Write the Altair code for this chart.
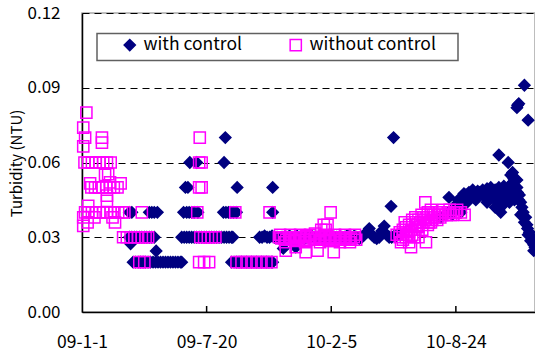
import altair as alt
import pandas as pd

FONT = "Noto Sans CJK KR"
NAVY = "#000080"
MAGENTA = "#FF00FF"

series_names = ["with control", "without control"]
tick_days = [0, 200, 400, 600]
tick_labels = ["09-1-1", "09-7-20", "10-2-5", "10-8-24"]
y_ticks = [0.0, 0.03, 0.06, 0.09, 0.12]

# ---------------- with control (navy diamonds) ----------------
wc_020_days = [82, 86, 90, 94, 98, 102, 106, 110, 114, 118, 122, 126, 130, 134, 138, 142,
               146, 150, 154, 158, 160, 240, 244, 248, 252, 256, 260, 264, 268, 272, 276,
               280, 284, 288, 292, 296, 300, 304, 306]
wc_030_days = [76, 80, 84, 88, 92, 96, 100, 104, 108, 112, 116,
               160, 164, 168, 172, 176, 180, 184, 188, 192, 196, 200, 204, 208, 212, 216,
               220, 224, 228, 232, 236, 240, 242]
wc_040_days = [76, 80, 108, 112, 116, 121, 163, 168, 172, 176, 180, 186,
               227, 231, 235, 239, 243, 248, 306]
wc_050_days = [166, 170, 249, 306]
wc_060_days = [173, 184, 228]
wc_070_days = [230, 500]
wc_misc_days = [78, 119, 323, 343, 496, 589]
wc_misc_vals = [0.0274, 0.0245, 0.0255, 0.026, 0.0424, 0.046]
# continuous band, 2009-10 to 2010-05
wc_band_days = [285, 289, 293, 297, 301, 305, 309, 313, 317, 321, 325, 329, 333, 337, 341,
                345, 349, 353, 357, 361, 365, 369, 373, 377, 381, 385, 389, 393, 397, 401,
                405, 409, 413, 417, 421, 425, 429, 433, 437, 441, 445, 449, 453, 457, 461,
                465, 469, 473, 477, 481, 485, 489, 493, 497, 501, 505, 509]
wc_band_vals = [0.030, 0.030, 0.0305, 0.030, 0.030, 0.0305, 0.030, 0.030, 0.0295, 0.030,
                0.029, 0.030, 0.0305, 0.030, 0.030, 0.0305, 0.030, 0.030, 0.0295, 0.030,
                0.030, 0.0305, 0.030, 0.030, 0.030, 0.0305, 0.030, 0.030, 0.030, 0.0305,
                0.030, 0.030, 0.0295, 0.030, 0.030, 0.0305, 0.0305, 0.030, 0.0305, 0.030,
                0.0295, 0.030, 0.031, 0.032, 0.0335, 0.031, 0.030, 0.0295, 0.030, 0.0325,
                0.0345, 0.031, 0.030, 0.030, 0.0305, 0.0305, 0.031]
# late period, 2010-08 to 2010-12
wc_late_days = [576, 582, 588, 594, 600, 604, 608, 608, 608, 613, 613, 621, 621, 627,
                635, 635, 643, 643, 650, 650, 650, 656, 656, 663, 663, 663, 669, 669, 669,
                669, 672, 677, 677, 684, 684, 684, 688, 688, 691, 691, 693, 693, 698, 698,
                698, 698, 699, 699, 701, 701, 704, 704, 710, 710, 715, 716, 716, 720, 725,
                725,
                600, 604, 610, 616, 618, 624, 630, 632, 638, 646, 654, 660, 666, 674, 676,
                680, 686, 690, 694, 702, 706, 708, 712, 714, 718, 722, 727]
wc_late_vals = [0.038, 0.039, 0.040, 0.039, 0.041, 0.042, 0.040, 0.042, 0.044, 0.0475,
                0.043, 0.048, 0.045, 0.049, 0.0485, 0.047, 0.049, 0.047, 0.0495, 0.046,
                0.044, 0.050, 0.047, 0.049, 0.045, 0.042, 0.063, 0.050, 0.043, 0.041,
                0.040, 0.0505, 0.048, 0.060, 0.050, 0.047, 0.055, 0.050, 0.056, 0.052,
                0.0535, 0.049, 0.082, 0.053, 0.050, 0.047, 0.083, 0.048, 0.0836, 0.045,
                0.044, 0.039, 0.091, 0.036, 0.0335, 0.077, 0.031, 0.0286, 0.0246, 0.027,
                0.043, 0.045, 0.046, 0.047, 0.044, 0.046, 0.047, 0.045, 0.048, 0.048,
                0.048, 0.048, 0.048, 0.046, 0.043, 0.045, 0.044, 0.046, 0.045, 0.047,
                0.042, 0.040, 0.038, 0.035, 0.032, 0.030, 0.026]

# ---------------- without control (magenta squares) ----------------
woc_020_days = [92, 100, 188, 196, 204, 248, 256, 264, 272, 280, 288, 296, 304]
woc_030_days = [66, 72, 78, 84, 90, 96, 102, 106, 190, 196, 202, 208, 214]
woc_040_days = [5, 10, 16, 22, 28, 34, 40, 46, 52, 58, 64, 68, 96, 185, 246, 301]
woc_050_days = [15, 21, 27, 33, 39, 45, 51, 57, 188, 192]
woc_060_days = [4, 10, 16, 22, 28, 34, 40, 46, 188, 192]
woc_misc_days = [7, 2, 5, 32, 32, 2, 37, 42, 45, 13, 62, 40, 40, 10, 9, 53, 2, 2, 20, 49, 189]
woc_misc_vals = [0.080, 0.074, 0.070, 0.070, 0.068, 0.0665, 0.055, 0.0553, 0.052, 0.0516,
                 0.0516, 0.0467, 0.0446, 0.0426, 0.036, 0.036, 0.0346, 0.038, 0.038, 0.038,
                 0.070]
woc_band_days = [316, 320, 324, 327, 328, 332, 336, 340, 343, 344, 348, 352, 356, 359, 360,
                 364, 368, 372, 376, 378, 380, 384, 384, 388, 388, 391, 392, 394, 396, 399,
                 400, 404, 404, 408, 412, 416, 420, 424, 428, 432, 436, 440,
                 318, 326, 334, 342, 350, 358, 366, 374, 382, 390, 398, 406, 414, 422, 430,
                 438]
woc_band_vals = [0.030, 0.0295, 0.030, 0.0246, 0.029, 0.030, 0.0295, 0.029, 0.026, 0.030,
                 0.0295, 0.030, 0.029, 0.024, 0.0305, 0.029, 0.030, 0.0295, 0.029, 0.0246,
                 0.030, 0.033, 0.0295, 0.035, 0.029, 0.033, 0.030, 0.035, 0.0295, 0.040,
                 0.030, 0.024, 0.029, 0.0295, 0.030, 0.029, 0.0295, 0.030, 0.029, 0.0295,
                 0.030, 0.029,
                 0.031, 0.028, 0.031, 0.0285, 0.031, 0.028, 0.031, 0.0315, 0.028, 0.031,
                 0.0285, 0.031, 0.028, 0.031, 0.028, 0.031]
woc_late_days = [510, 510, 515, 515, 515, 520, 520, 525, 525, 525, 528, 530, 530, 530, 535,
                 535, 535, 540, 540, 540, 545, 548, 548, 551, 552, 555, 555, 555, 560, 560,
                 560, 565, 570, 570, 575, 575, 580, 587, 592, 597, 602, 608, 614,
                 505, 512, 518, 522, 528, 533, 538, 543, 546, 550, 557, 562, 566, 572, 578,
                 583, 590, 595, 600]
woc_late_vals = [0.030, 0.032, 0.029, 0.031, 0.033, 0.030, 0.034, 0.028, 0.032, 0.035,
                 0.026, 0.031, 0.035, 0.037, 0.033, 0.036, 0.038, 0.030, 0.034, 0.037,
                 0.039, 0.036, 0.038, 0.044, 0.028, 0.035, 0.038, 0.040, 0.036, 0.039,
                 0.041, 0.038, 0.037, 0.040, 0.038, 0.040, 0.041, 0.040, 0.039, 0.040,
                 0.041, 0.040, 0.039,
                 0.031, 0.028, 0.036, 0.031, 0.033, 0.030, 0.035, 0.036, 0.033, 0.037,
                 0.036, 0.037, 0.039, 0.039, 0.039, 0.039, 0.041, 0.039, 0.040]

rows = []


def add(series, days, vals):
    for d, v in zip(days, vals):
        rows.append({"series": series, "day": d, "ntu": v})


wc = series_names[0]
woc = series_names[1]
add(wc, wc_020_days, [0.020] * len(wc_020_days))
add(wc, wc_030_days, [0.030] * len(wc_030_days))
add(wc, wc_040_days, [0.040] * len(wc_040_days))
add(wc, wc_050_days, [0.050] * len(wc_050_days))
add(wc, wc_060_days, [0.060] * len(wc_060_days))
add(wc, wc_070_days, [0.070] * len(wc_070_days))
add(wc, wc_misc_days, wc_misc_vals)
add(wc, wc_band_days, wc_band_vals)
add(wc, wc_late_days, wc_late_vals)
add(woc, woc_020_days, [0.020] * len(woc_020_days))
add(woc, woc_030_days, [0.030] * len(woc_030_days))
add(woc, woc_040_days, [0.040] * len(woc_040_days))
add(woc, woc_050_days, [0.050] * len(woc_050_days))
add(woc, woc_060_days, [0.060] * len(woc_060_days))
add(woc, woc_misc_days, woc_misc_vals)
add(woc, woc_band_days, woc_band_vals)
add(woc, woc_late_days, woc_late_vals)
df = pd.DataFrame(rows)

W, H = 453, 299

label_expr = " : ".join(
    f"datum.value == {d} ? '{l}'" for d, l in zip(tick_days, tick_labels)
) + " : ''"

x_axis = alt.Axis(values=tick_days, labelExpr=label_expr, title=None, ticks=False,
                  tickSize=0, grid=False, labelPadding=21, labelFontSize=17.5,
                  labelFont=FONT, labelColor="#000000", domainColor="#000000",
                  domainWidth=1.5, labelFlush=False)
x_scale = alt.Scale(domain=[0, 727], nice=False, zero=False)

legend_kw = dict(title=None, orient="none", legendX=39, legendY=23,
                 direction="horizontal", labelFont=FONT, labelFontSize=17.5,
                 labelColor="#000000", symbolSize=125, symbolStrokeWidth=1.5,
                 columnPadding=44, labelOffset=5)

points = alt.Chart(df).mark_point(size=125, strokeWidth=1.5, opacity=1, fillOpacity=1).encode(
    x=alt.X("day:Q", scale=x_scale, axis=x_axis),
    y=alt.Y("ntu:Q", scale=alt.Scale(domain=[0, 0.12], nice=False),
            axis=alt.Axis(values=y_ticks, format=".2f", title="Turbidity (NTU)",
                          ticks=False, tickSize=0, labelPadding=22, labelFontSize=17,
                          labelFont=FONT, labelColor="#000000", titleFont=FONT,
                          titleFontSize=15, titleFontWeight="normal", titleColor="#000000",
                          titleX=-66, titleY=150, titleBaseline="middle",
                          grid=True, gridColor="#000000", gridDash=[7, 5], gridWidth=1,
                          domainColor="#000000", domainWidth=1.5)),
    shape=alt.Shape("series:N", scale=alt.Scale(domain=series_names, range=["diamond", "square"]),
                    legend=alt.Legend(**legend_kw)),
    fill=alt.Fill("series:N", scale=alt.Scale(domain=series_names, range=[NAVY, "transparent"]),
                  legend=alt.Legend(**legend_kw)),
    stroke=alt.Stroke("series:N", scale=alt.Scale(domain=series_names, range=[NAVY, MAGENTA]),
                      legend=alt.Legend(**legend_kw)),
)

legend_box = alt.Chart(alt.Data(values=[{}])).mark_rect(
    fill="white", stroke="#606060", strokeWidth=1.5
).encode(x=alt.value(15), x2=alt.value(376), y=alt.value(20.5), y2=alt.value(47.5))

tick_df = pd.DataFrame({"day": tick_days[1:]})
ticks = alt.Chart(tick_df).mark_rule(color="#000000", strokeWidth=1.5).encode(
    x=alt.X("day:Q", scale=x_scale, axis=x_axis),
    y=alt.value(H), y2=alt.value(H - 6),
)

chart = alt.layer(legend_box, ticks, points).properties(
    width=W, height=H,
    autosize=alt.AutoSizeParams(type="none"),
    padding={"left": 82, "top": 13, "right": 0, "bottom": 44},
    background="white",
).configure_view(stroke="#A8A8A8", strokeWidth=1.5)

chart.save("out.html", embed_options={"renderer": "svg", "actions": False})
